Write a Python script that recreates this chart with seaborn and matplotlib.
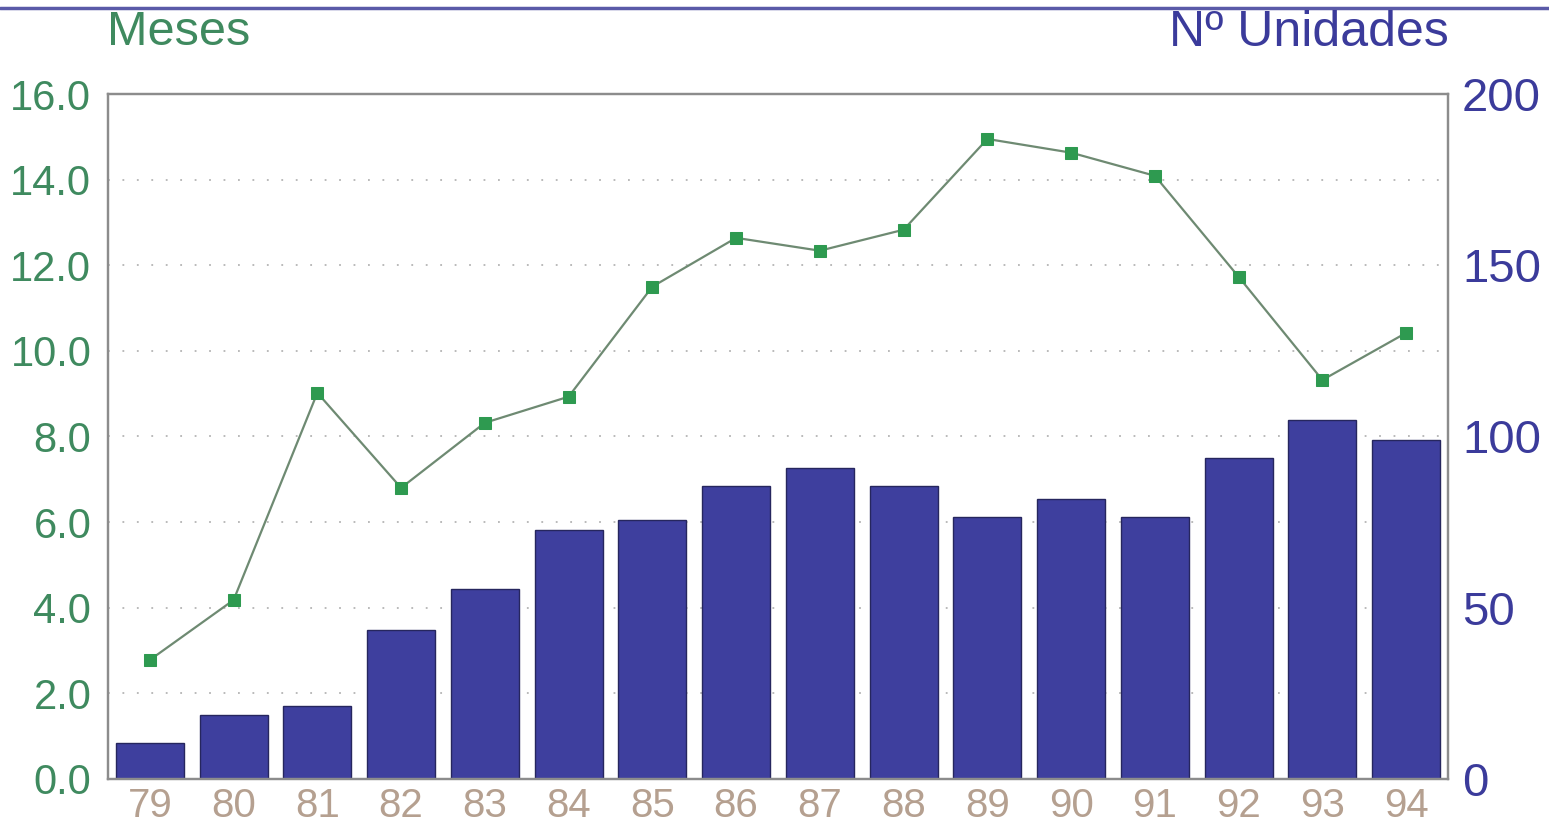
import matplotlib
matplotlib.use('Agg')
import matplotlib.pyplot as plt
from matplotlib.lines import Line2D
import seaborn as sns
import pandas as pd

# Chart data
years = ['79', '80', '81', '82', '83', '84', '85', '86',
         '87', '88', '89', '90', '91', '92', '93', '94']
unidades = [10.5, 18.7, 21.3, 43.5, 55.5, 72.7, 75.6, 85.5,
            90.8, 85.5, 76.5, 81.8, 76.5, 93.7, 104.8, 99.0]
meses = [2.78, 4.18, 9.02, 6.80, 8.32, 8.93, 11.50, 12.64,
         12.34, 12.83, 14.95, 14.63, 14.09, 11.73, 9.32, 10.42]

green = '#3f8a5f'
purple = '#3b3b9b'
bar_color = '#3e3f9e'
tan = '#b5a090'

df = pd.DataFrame({'year': years, 'unidades': unidades, 'meses': meses})

sns.set_style('white')
plt.rcParams['font.family'] = ['Liberation Sans', 'DejaVu Sans']

fig = plt.figure(figsize=(15.49, 8.35), dpi=100)
ax = fig.add_axes([0.0697, 0.0671, 0.8651, 0.8203])

# bars on the right-hand scale
sns.barplot(data=df, x='year', y='unidades', color=bar_color, width=0.81,
            edgecolor='#26265e', linewidth=1.0, saturation=1, ax=ax, zorder=2)
ax.set_ylim(0, 200)
ax.set_xlim(-0.5, 15.5)
ax.set_xlabel('')
ax.set_ylabel('')
for y in range(25, 200, 25):
    ax.axhline(y, color='#b4b4b4', lw=1.3, ls=(0, (1, 7)), zorder=1)

# line on the left-hand scale
ax2 = ax.twinx()
sns.lineplot(data=df, x='year', y='meses', color='#6e8a72', lw=1.6,
             marker='s', markersize=9, markerfacecolor='#2e9a50',
             markeredgecolor='#2e9a50', ax=ax2, zorder=3)
ax2.set_ylim(0, 16)
ax2.set_yticks([0, 2, 4, 6, 8, 10, 12, 14, 16])
ax2.set_yticklabels([f'{v:.1f}' for v in [0, 2, 4, 6, 8, 10, 12, 14, 16]])
ax2.set_ylabel('')
ax2.set_xlabel('')

# swap sides: Meses on the left, Unidades on the right
ax.yaxis.tick_right()
ax.set_yticks([0, 50, 100, 150, 200])
ax2.yaxis.tick_left()
ax.tick_params(axis='y', labelsize=34, labelcolor=purple, length=0, pad=10,
               left=False, labelleft=False, right=False, labelright=True)
ax.tick_params(axis='x', labelsize=29, labelcolor=tan, length=0, pad=6)
ax2.tick_params(axis='y', labelsize=30, labelcolor=green, length=0, pad=12,
                right=False, labelright=False, left=False, labelleft=True)

for a in (ax, ax2):
    for s in a.spines.values():
        s.set_color('#8c8c8c')
        s.set_linewidth(1.6)

fig.text(0.069, 0.961, 'Meses', color=green, fontsize=35, ha='left', va='center')
fig.text(0.935, 0.961, 'Nº Unidades', color=purple, fontsize=36, ha='right', va='center')
fig.add_artist(Line2D([0, 1], [0.991, 0.991], transform=fig.transFigure,
                      color='#5a5aa8', lw=2.5))

fig.savefig('out.png', dpi=100)
